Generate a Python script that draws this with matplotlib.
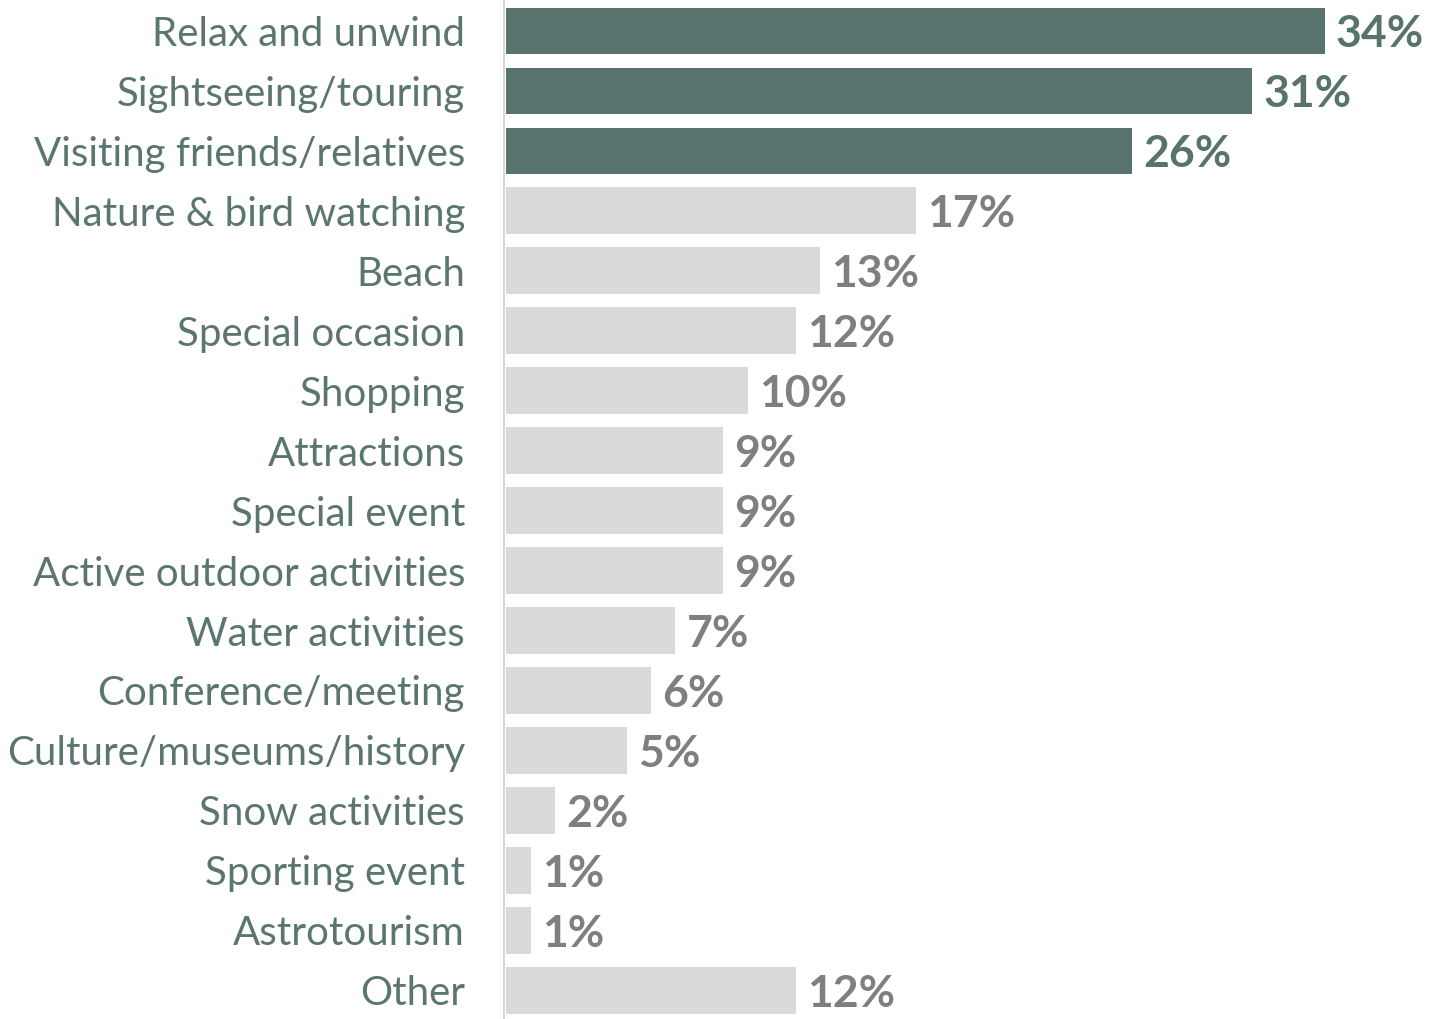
import matplotlib.pyplot as plt
from matplotlib.transforms import offset_copy

categories = ["Relax and unwind", "Sightseeing/touring", "Visiting friends/relatives",
              "Nature & bird watching", "Beach", "Special occasion", "Shopping",
              "Attractions", "Special event", "Active outdoor activities",
              "Water activities", "Conference/meeting", "Culture/museums/history",
              "Snow activities", "Sporting event", "Astrotourism", "Other"]
values = [34, 31, 26, 17, 13, 12, 10, 9, 9, 9, 7, 6, 5, 2, 1, 1, 12]
highlight = 3  # top three bars in dark green

dark = "#58736d"
light = "#d9d9d9"
text_green = "#5b7671"
text_grey = "#7f7f7f"

plt.rcParams['font.family'] = ['Lato', 'DejaVu Sans']

fig = plt.figure(figsize=(14.44, 10.19), dpi=100)
ax = fig.add_axes([504 / 1444, 0, 1 - 504 / 1444, 1])

ypos = list(range(len(categories)))
colors = [dark if i < highlight else light for i in ypos]
ax.barh(ypos, [v + 0.05 for v in values], height=0.78, color=colors, left=0.08)

ax.set_xlim(0, 39.1)
ax.set_ylim(16.48, -0.517)

ax.set_yticks(ypos)
ax.set_yticklabels(categories, fontsize=29, color=text_green)
ax.tick_params(axis='y', length=0, pad=28)
ax.set_xticks([])
for s in ["top", "right", "bottom"]:
    ax.spines[s].set_visible(False)
ax.spines["left"].set_color(light)
ax.spines["left"].set_linewidth(1.5)

tr = offset_copy(ax.transData, fig=fig, x=8, y=0, units='points')
for i, v in enumerate(values):
    c = dark if i < highlight else text_grey
    ax.text(v + 0.13, i, f"{v}%", transform=tr, ha='left', va='center_baseline',
            fontsize=32, fontweight='bold', color=c)

fig.savefig("out.png", dpi=100)
